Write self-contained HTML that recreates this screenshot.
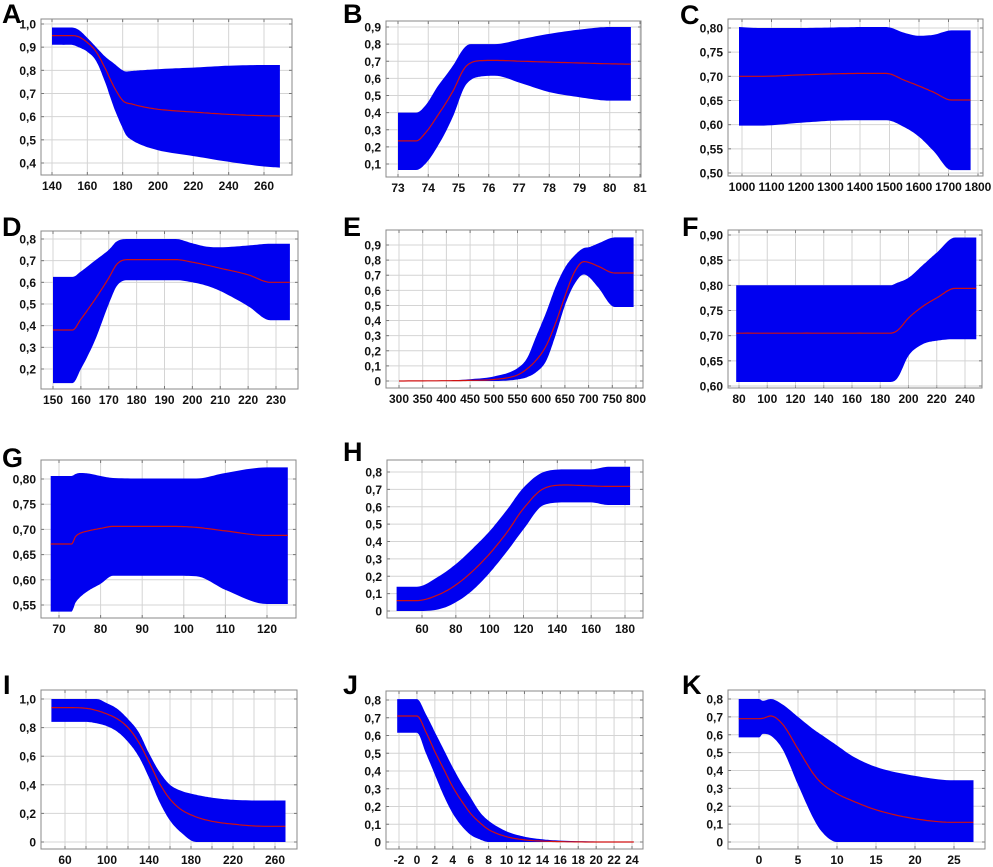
<!DOCTYPE html>
<html><head><meta charset="utf-8"><style>
body{margin:0;background:#fff}
svg{display:block}
text{font-family:"Liberation Sans",sans-serif}
.tk{font-size:12px;font-weight:bold;fill:#111}
.lt{font-size:27px;font-weight:bold;fill:#000}
</style></head><body>
<svg id="fig" width="993" height="867" viewBox="0 0 993 867" xmlns="http://www.w3.org/2000/svg"></svg>
<script>
// ---- data (x, mean, lower, upper) per panel ----
const aX=[140,151,155,160,165,170,175,180,182,185,190,200,220,240,260,269];
const aUp=[.985,.985,.975,.94,.9,.86,.83,.8,.795,.797,.80,.805,.812,.82,.823,.823];
const aMean=[.95,.95,.945,.92,.88,.81,.73,.67,.66,.655,.645,.632,.62,.61,.604,.603];
const aLo=[.91,.91,.9,.88,.84,.75,.64,.55,.52,.5,.48,.455,.43,.405,.385,.38];
const bX=[73,73.6,73.9,74.3,74.8,75.2,75.4,75.7,76.2,77.1,78,79,80,80.7];
const bUp=[.4,.4,.44,.55,.67,.78,.8,.8,.8,.83,.86,.885,.9,.9];
const bMean=[.235,.235,.28,.38,.52,.66,.69,.703,.705,.7,.695,.69,.685,.683];
const bLo=[.065,.065,.1,.2,.37,.55,.59,.61,.615,.57,.52,.49,.47,.47];
const cX=[990,1060,1200,1300,1400,1490,1550,1600,1650,1710,1775];
const cUp=[.802,.800,.80,.801,.802,.802,.79,.784,.786,.795,.795];
const cMean=[.70,.70,.703,.705,.706,.706,.692,.68,.667,.651,.651];
const cLo=[.598,.598,.604,.608,.609,.609,.595,.575,.545,.506,.506];
const dX=[150,157,160,165,170,173,177,185,194,200,205,210,220,228,235];
const dUp=[.625,.625,.65,.7,.75,.79,.8,.8,.8,.78,.765,.762,.77,.778,.778];
const dMean=[.38,.38,.43,.52,.62,.685,.705,.705,.705,.693,.68,.665,.635,.60,.60];
const dLo=[.135,.135,.2,.33,.5,.585,.61,.61,.61,.6,.585,.56,.49,.425,.425];
const eX=[300,400,450,500,550,570,590,610,630,650,670,690,700,720,755,795];
const eUp=[0,.003,.012,.03,.085,.15,.3,.45,.62,.75,.83,.88,.885,.91,.95,.95];
const eMean=[0,.002,.004,.01,.04,.08,.14,.23,.38,.56,.72,.79,.785,.76,.715,.715];
const eLo=[0,0,0,0,.01,.025,.06,.13,.3,.5,.64,.705,.69,.62,.49,.49];
const fX=[78,120,160,187,192,200,210,220,233,248];
const fUp=[.80,.80,.80,.80,.805,.815,.84,.865,.895,.895];
const fMean=[.705,.705,.705,.705,.71,.735,.758,.775,.794,.794];
const fLo=[.608,.608,.608,.608,.615,.66,.683,.69,.693,.693];
const gX=[68,73,74,75,77,80,83,90,97,103,110,120,125];
const gUp=[.806,.806,.81,.812,.811,.806,.802,.801,.801,.801,.812,.823,.823];
const gMean=[.671,.671,.686,.692,.697,.702,.706,.706,.706,.704,.697,.688,.688];
const gLo=[.537,.537,.555,.565,.578,.592,.608,.608,.608,.607,.58,.552,.552];
const hX=[45,57,70,80,90,100,110,120,132,145,160,170,183];
const hUp=[.14,.14,.2,.27,.36,.46,.58,.71,.8,.815,.815,.83,.83];
const hMean=[.06,.06,.095,.15,.23,.33,.45,.59,.705,.725,.72,.717,.717];
const hLo=[0,0,.01,.05,.12,.22,.34,.47,.61,.625,.625,.61,.61];
const iX=[47,60,80,90,100,110,120,130,140,150,160,170,185,200,220,250,270];
const iUp=[1.0,1.0,1.0,1.0,.97,.93,.86,.77,.62,.49,.4,.36,.33,.31,.295,.29,.29];
const iMean=[.94,.94,.935,.92,.895,.86,.8,.7,.56,.41,.3,.23,.175,.145,.125,.11,.11];
const iLo=[.84,.84,.84,.83,.81,.77,.7,.6,.45,.28,.15,.07,0,0,0,0,0];
const jX=[-2.2,0,1,2,3,4,5,6,7,8,10,12,14,16,20,24.2];
const jUp=[.805,.805,.72,.62,.52,.42,.33,.25,.17,.12,.06,.03,.015,.008,.003,.002];
const jMean=[.71,.71,.62,.51,.41,.31,.23,.16,.11,.07,.03,.012,.005,.002,0,0];
const jLo=[.615,.615,.5,.38,.26,.16,.09,.04,.015,0,0,0,0,0,0,0];
const kX=[-2.6,0,0.5,1.5,3,5,7,8,10,12,15,20,25,27.5];
const kUp=[.80,.80,.79,.80,.77,.70,.63,.6,.54,.48,.42,.37,.345,.345];
const kMean=[.69,.69,.692,.705,.66,.52,.38,.33,.27,.23,.18,.13,.11,.11];
const kLo=[.585,.585,.605,.595,.52,.32,.13,.06,0,0,0,0,0,0];
// tick values
const aXT=[140,160,180,200,220,240,260]; const aYT=[.4,.5,.6,.7,.8,.9,1.0];
const bXT=[73,74,75,76,77,78,79,80,81]; const bYT=[.1,.2,.3,.4,.5,.6,.7,.8,.9];
const cXT=[1000,1100,1200,1300,1400,1500,1600,1700,1800]; const cYT=[.50,.55,.60,.65,.70,.75,.80];
const dXT=[150,160,170,180,190,200,210,220,230]; const dYT=[.2,.3,.4,.5,.6,.7,.8];
const eXT=[300,350,400,450,500,550,600,650,700,750,800]; const eYT=[0,.1,.2,.3,.4,.5,.6,.7,.8,.9];
const fXT=[80,100,120,140,160,180,200,220,240]; const fYT=[.60,.65,.70,.75,.80,.85,.90];
const gXT=[70,80,90,100,110,120]; const gYT=[.55,.60,.65,.70,.75,.80];
const hXT=[60,80,100,120,140,160,180]; const hYT=[0,.1,.2,.3,.4,.5,.6,.7,.8];
const iXT=[60,80,100,120,140,160,180,200,220,240,260]; const iXL=[60,100,140,180,220,260]; const iYT=[0,.2,.4,.6,.8,1.0];
const jXT=[-2,0,2,4,6,8,10,12,14,16,18,20,22,24]; const jYT=[0,.1,.2,.3,.4,.5,.6,.7,.8];
const kXT=[0,5,10,15,20,25]; const kYT=[0,.1,.2,.3,.4,.5,.6,.7,.8];

// ---- layout (pixels) ----
const panels=[
 {id:'a',L:'A',lp:[2,23],box:[41,19,292,175],xr:[140,52,260,264],yr:[1.0,24,0.4,163],x:aX,m:aMean,lo:aLo,up:aUp,xt:aXT,yt:aYT,dec:1},
 {id:'b',L:'B',lp:[343,23],box:[386,21,641,177],xr:[73,398,81,640],yr:[.9,27,.1,164],x:bX,m:bMean,lo:bLo,up:bUp,xt:bXT,yt:bYT,dec:1},
 {id:'c',L:'C',lp:[680,24],box:[728,19,983,176],xr:[1000,742,1800,978],yr:[.80,28,.50,173],x:cX,m:cMean,lo:cLo,up:cUp,xt:cXT,yt:cYT,dec:2},
 {id:'d',L:'D',lp:[2,236],box:[41,231,298,389],xr:[150,53,230,276],yr:[.8,239,.2,369],x:dX,m:dMean,lo:dLo,up:dUp,xt:dXT,yt:dYT,dec:1},
 {id:'e',L:'E',lp:[343,236],box:[386,230,643,388],xr:[300,399,800,636],yr:[.9,245,0,381],x:eX,m:eMean,lo:eLo,up:eUp,xt:eXT,yt:eYT,dec:1},
 {id:'f',L:'F',lp:[682,236],box:[728,230,982,388],xr:[80,739,240,965],yr:[.90,235,.60,386],x:fX,m:fMean,lo:fLo,up:fUp,xt:fXT,yt:fYT,dec:2},
 {id:'g',L:'G',lp:[2,467],box:[41,460,296,618],xr:[70,59,120,267],yr:[.80,479,.55,605],x:gX,m:gMean,lo:gLo,up:gUp,xt:gXT,yt:gYT,dec:2},
 {id:'h',L:'H',lp:[343,461],box:[387,460,643,618],xr:[60,422,180,625],yr:[.8,472,0,611],x:hX,m:hMean,lo:hLo,up:hUp,xt:hXT,yt:hYT,dec:1},
 {id:'i',L:'I',lp:[3,694],box:[41,690,297,849],xr:[60,65,260,275],yr:[1.0,699,0,842],x:iX,m:iMean,lo:iLo,up:iUp,xt:iXT,xl:iXL,yt:iYT,dec:1},
 {id:'j',L:'J',lp:[343,694],box:[386,691,643,849],xr:[-2,399,24,632],yr:[.8,700,0,842],x:jX,m:jMean,lo:jLo,up:jUp,xt:jXT,yt:jYT,dec:1},
 {id:'k',L:'K',lp:[682,694],box:[728,690,985,849],xr:[0,759,25,954],yr:[.8,699,0,842],x:kX,m:kMean,lo:kLo,up:kUp,xt:kXT,yt:kYT,dec:1}
];
const NS='http://www.w3.org/2000/svg';
const svg=document.getElementById('fig');
function mk(tag,attrs,parent){const e=document.createElementNS(NS,tag);for(const k in attrs)e.setAttribute(k,attrs[k]);parent.appendChild(e);return e;}
function fmt(v,dec){if(v===0)return '0';return v.toFixed(dec).replace('.',',');}
// monotone cubic interpolation (Fritsch-Carlson), returns sampled [x,y] pairs
function smooth(xs,ys){
 const n=xs.length;if(n<3)return xs.map((x,i)=>[x,ys[i]]);
 const d=[],m=new Array(n);
 for(let i=0;i<n-1;i++)d.push((ys[i+1]-ys[i])/(xs[i+1]-xs[i]));
 m[0]=d[0];m[n-1]=d[n-2];
 for(let i=1;i<n-1;i++)m[i]=(d[i-1]*d[i]<=0)?0:(d[i-1]+d[i])/2;
 for(let i=0;i<n-1;i++){if(d[i]===0){m[i]=0;m[i+1]=0;continue;}
  const a=m[i]/d[i],b=m[i+1]/d[i],s=a*a+b*b;if(s>9){const t=3/Math.sqrt(s);m[i]=t*a*d[i];m[i+1]=t*b*d[i];}}
 const out=[];
 for(let i=0;i<n-1;i++){const h=xs[i+1]-xs[i];const N=10;
  for(let k=0;k<N;k++){const t=k/N,t2=t*t,t3=t2*t;
   const y=(2*t3-3*t2+1)*ys[i]+(t3-2*t2+t)*h*m[i]+(-2*t3+3*t2)*ys[i+1]+(t3-t2)*h*m[i+1];
   out.push([xs[i]+t*h,y]);}}
 out.push([xs[n-1],ys[n-1]]);return out;
}
panels.forEach(p=>{
 const g=mk('g',{},svg);
 
 
 const sx=v=>p.xr[1]+(v-p.xr[0])*(p.xr[3]-p.xr[1])/(p.xr[2]-p.xr[0]);
 const sy=v=>p.yr[1]+(v-p.yr[0])*(p.yr[3]-p.yr[1])/(p.yr[2]-p.yr[0]);
 const [x0,y0,x1,y1]=p.box;
 mk('rect',{x:x0,y:y0,width:x1-x0,height:y1-y0,fill:'#fff'},g);
 p.xt.forEach(v=>{const X=sx(v);const l=mk('line',{x1:X,x2:X,y1:y0,y2:y1,stroke:'#d4d4d4','stroke-width':1},g);
  
  mk('line',{x1:X,x2:X,y1:y1,y2:y1-3,stroke:'#777'},g);mk('line',{x1:X,x2:X,y1:y0,y2:y0+3,stroke:'#777'},g);});
 p.yt.forEach(v=>{const Y=sy(v);const l=mk('line',{x1:x0,x2:x1,y1:Y,y2:Y,stroke:'#d4d4d4','stroke-width':1},g);
  
  mk('line',{x1:x0,x2:x0+3,y1:Y,y2:Y,stroke:'#777'},g);mk('line',{x1:x1,x2:x1-3,y1:Y,y2:Y,stroke:'#777'},g);});
 const up=smooth(p.x,p.up),lo=smooth(p.x,p.lo),mn=smooth(p.x,p.m);
 let d='M'+up.map(q=>sx(q[0]).toFixed(1)+','+sy(q[1]).toFixed(1)).join('L');
 for(let i=lo.length-1;i>=0;i--)d+='L'+sx(lo[i][0]).toFixed(1)+','+sy(lo[i][1]).toFixed(1);
 const band=mk('path',{d:d+'Z',fill:'#0000f0'},g);
 
 
 const line=mk('polyline',{points:mn.map(q=>sx(q[0]).toFixed(1)+','+sy(q[1]).toFixed(1)).join(' '),fill:'none',stroke:'#d01010','stroke-width':1.2},g);
 
 
 const fr=mk('rect',{x:x0,y:y0,width:x1-x0,height:y1-y0,fill:'none',stroke:'#888','stroke-width':1},g);
 
 
 (p.xl||p.xt).forEach(v=>{const t=mk('text',{x:sx(v),y:y1+15,'text-anchor':'middle',class:'tk'},g);t.textContent=String(v);
  });
 p.yt.forEach(v=>{const t=mk('text',{x:x0-5,y:sy(v)+4.5,'text-anchor':'end',class:'tk'},g);t.textContent=fmt(v,p.dec);
  });
 const lt=mk('text',{x:p.lp[0],y:p.lp[1],class:'lt'},g);lt.textContent=p.L;
 
 
});
</script>
</body></html>
